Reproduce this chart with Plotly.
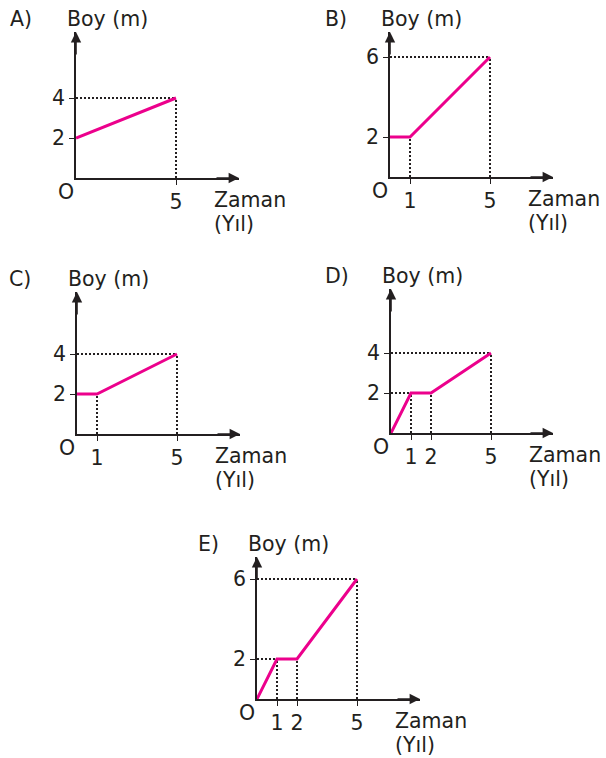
import plotly.graph_objects as go

# growth curves (time in years, height in m)
letters = ["A)", "B)", "C)", "D)", "E)"]
years = [
    [0, 5],
    [0, 1, 5],
    [0, 1, 5],
    [0, 1, 2, 5],
    [0, 1, 2, 5],
]
heights = [
    [2, 4],
    [2, 2, 6],
    [2, 2, 4],
    [0, 2, 2, 4],
    [0, 2, 2, 6],
]
x_ticks = [[5], [1, 5], [1, 5], [1, 2, 5], [1, 2, 5]]
y_ticks = [[2, 4], [2, 6], [2, 4], [2, 4], [2, 6]]

x_title = "Zaman"
x_unit = "(Yıl)"
y_title = "Boy (m)"
origin_label = "O"

W, H = 606, 758
SCALE = 20  # px per unit
# pixel position of origin and arrow tips for each panel: (ox, oy, x_tip, y_tip)
frames = [
    (76, 178, 239, 32),
    (390, 177, 553, 32),
    (77, 434, 240, 292),
    (391, 433, 553, 289),
    (257, 699, 420, 557),
]
letter_shift = [-68, -67, -70, -68, -61]

INK = "#231f20"
PINK = "#ec008c"
FONT = dict(family="DejaVu Sans", size=20.5, color=INK)

fig = go.Figure()
annotations = []

for i, (ox, oy, xt, yt) in enumerate(frames):
    xn = "x" if i == 0 else f"x{i + 1}"
    yn = "y" if i == 0 else f"y{i + 1}"
    xmax = (xt - ox) / SCALE
    ymax = (oy - yt) / SCALE
    xs, ys = years[i], heights[i]

    # dotted guides from each point down to the time axis and across to the height axis
    seen = set()
    for px_, py_ in zip(xs, ys):
        if px_ > 0 and py_ > 0:
            fig.add_trace(go.Scatter(x=[px_, px_], y=[0, py_], mode="lines",
                                     line=dict(color=INK, width=2, dash="2px,2px"),
                                     xaxis=xn, yaxis=yn, hoverinfo="skip"))
        if py_ > 0 and py_ not in seen:
            seen.add(py_)
            if px_ > 0:
                fig.add_trace(go.Scatter(x=[0, px_], y=[py_, py_], mode="lines",
                                         line=dict(color=INK, width=2, dash="2px,2px"),
                                         xaxis=xn, yaxis=yn, hoverinfo="skip"))

    fig.add_trace(go.Scatter(x=xs, y=ys, mode="lines",
                             line=dict(color=PINK, width=3),
                             xaxis=xn, yaxis=yn, hoverinfo="skip"))

    axis_common = dict(showline=True, linecolor=INK, linewidth=1.6,
                       ticks="outside", ticklen=5, tickwidth=1.4, tickcolor=INK,
                       showgrid=False, zeroline=False, tickfont=FONT, fixedrange=True)
    fig.layout[f"xaxis{'' if i == 0 else i + 1}"] = dict(
        axis_common, domain=[ox / W, xt / W], range=[0, xmax], anchor=yn,
        tickvals=x_ticks[i], ticktext=[str(v) for v in x_ticks[i]])
    fig.layout[f"yaxis{'' if i == 0 else i + 1}"] = dict(
        axis_common, domain=[1 - oy / H, 1 - yt / H], range=[0, ymax], anchor=xn,
        tickvals=y_ticks[i], ticktext=[str(v) for v in y_ticks[i]])

    # arrowheads
    annotations.append(dict(x=xmax, y=0, ax=xmax - 1.2, ay=0, xref=xn, yref=yn,
                            axref=xn, ayref=yn, text="", showarrow=True,
                            arrowhead=2, arrowsize=1.3, arrowwidth=1.6, arrowcolor=INK))
    annotations.append(dict(x=0, y=ymax, ax=0, ay=ymax - 1.2, xref=xn, yref=yn,
                            axref=xn, ayref=yn, text="", showarrow=True,
                            arrowhead=2, arrowsize=1.3, arrowwidth=1.6, arrowcolor=INK))
    # texts
    annotations.append(dict(x=0, y=ymax, xref=xn, yref=yn, text=letters[i], showarrow=False,
                            xanchor="left", yanchor="middle", xshift=letter_shift[i], yshift=13,
                            font=FONT))
    annotations.append(dict(x=0, y=ymax, xref=xn, yref=yn, text=y_title, showarrow=False,
                            xanchor="left", yanchor="middle", xshift=-11, yshift=13,
                            font=FONT))
    annotations.append(dict(x=0, y=0, xref=xn, yref=yn, text=origin_label, showarrow=False,
                            xanchor="center", yanchor="middle", xshift=-10, yshift=-14,
                            font=FONT))
    annotations.append(dict(x=0, y=0, xref=xn, yref=yn, text=x_title, showarrow=False,
                            xanchor="left", yanchor="middle", xshift=136, yshift=-22,
                            font=FONT))
    annotations.append(dict(x=0, y=0, xref=xn, yref=yn, text=x_unit, showarrow=False,
                            xanchor="left", yanchor="middle", xshift=136, yshift=-46,
                            font=FONT))

fig.update_layout(
    width=W, height=H,
    margin=dict(l=0, r=0, t=0, b=0),
    paper_bgcolor="white", plot_bgcolor="white",
    showlegend=False,
    annotations=annotations,
)

# drop the page's default body margin so the figure sits at the window's corner
fig.write_html("out.html", config={"displayModeBar": False},
               post_script="document.body.style.margin='0';document.body.style.overflow='hidden';")
